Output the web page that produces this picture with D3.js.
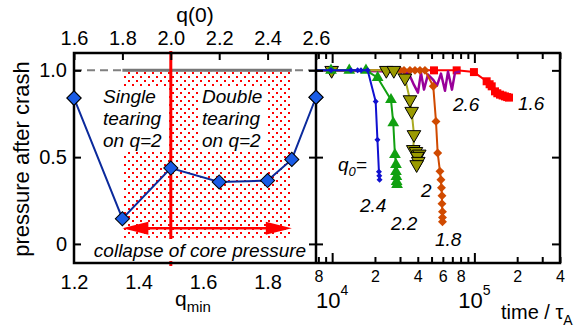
<!DOCTYPE html>
<html><head><meta charset="utf-8">
<script src="https://cdn.jsdelivr.net/npm/d3@7"></script>
<style>
body{margin:0;background:#fff}
svg{display:block}
text{font-family:"Liberation Sans",Arial,Helvetica,sans-serif;fill:#000}
</style>
</head><body>
<svg id="c" width="582" height="327"></svg>
<script>
// ---------- data ----------
const q0Ticks = [1.6, 1.8, 2.0, 2.2, 2.4, 2.6];
const qminTicks = [1.2, 1.4, 1.6, 1.8];
const yTicks = [0, 0.5, 1.0];
const leftQ0 = [1.6, 1.8, 2.0, 2.2, 2.4, 2.5, 2.6];
const leftPressure = [0.84, 0.145, 0.437, 0.357, 0.365, 0.487, 0.845];

const timeMinorTicks = [8e3, 9e3, 2e4, 3e4, 4e4, 5e4, 6e4, 7e4, 8e4, 9e4, 2e5, 3e5, 4e5];
const timeMajorTicks = [1e4, 1e5];
const timeMinorLabels = [8e3, 2e4, 4e4, 6e4, 8e4, 2e5, 4e5];

// q0 = 2.4 (blue)
const t24 = [7700, 9820, 13550, 15110, 15950, 17770, 20230, 20820, 21330, 21450, 21550];
const p24 = [1, 1, 1, 1, 1, 1, 0.82, 0.60, 0.416, 0.393, 0.37];
// q0 = 2.2 (green)
const t22 = [7700, 9820, 13190, 17290, 20890, 25920, 26900, 27640, 28100, 28100, 28300, 28400, 28600];
const p22 = [1, 1, 1, 1, 0.958, 0.831, 0.697, 0.514, 0.457, 0.416, 0.388, 0.359, 0.342];
// q0 = 2.0 (olive)
const t20 = [7700, 9920, 24040, 27140, 32500, 35250, 36240, 37610, 37180, 38840, 40980, 39680, 40320, 39280];
const p20 = [1, 1, 1, 1, 0.956, 0.831, 0.764, 0.63, 0.544, 0.533, 0.518, 0.505, 0.476, 0.457];
// q0 = 1.8 (orange)
const t18 = [7700, 29990, 31990, 35250, 38230, 41450, 44940, 51400, 53710, 55220, 57280, 58200, 58700, 59180, 59180, 59660, 59660, 59660];
const p18 = [1, 1, 1, 1, 1, 1, 1, 0.908, 0.706, 0.524, 0.418, 0.37, 0.324, 0.278, 0.232, 0.186, 0.152, 0.128];
// q0 = 2.6 (purple)
const t26 = [7700, 29020, 31990, 34130, 37610, 40130, 42120, 44220, 47180, 51160, 54580, 58230, 62140, 65240, 69600, 73060, 79200];
const p26 = [1, 0.993, 0.964, 0.993, 0.916, 0.872, 0.987, 0.889, 0.976, 0.947, 0.912, 0.981, 0.882, 0.993, 0.889, 0.987, 0.993];
// q0 = 1.6 (red)
const t16 = [7700, 52000, 75080, 99300, 122000, 128000, 132400, 139700, 145000, 151400, 158000, 164100, 170000, 175100];
const p16 = [1, 1, 1, 0.99, 0.937, 0.92, 0.908, 0.879, 0.868, 0.86, 0.855, 0.85, 0.846, 0.843];

// ---------- layout ----------
const L = {x0: 74, x1: 316, y0: 53, y1: 263};
const R = {x0: 316, x1: 560};
const svg = d3.select("#c");
const FONT = "20px";

const xL = d3.scaleLinear().domain([1.6, 2.6]).range([L.x0, L.x1]);
const xLb = d3.scaleLinear().domain([1.2, 1.95]).range([L.x0, L.x1]);
const y = d3.scaleLinear().domain([-0.11, 1.1]).range([L.y1, L.y0]);
const xR = d3.scaleLog().domain([7700, 4e5]).range([R.x0, R.x1]);

// pattern
const defs = svg.append("defs");
const pat = defs.append("pattern").attr("id", "dots").attr("patternUnits", "userSpaceOnUse")
  .attr("width", 8).attr("height", 8);
pat.append("rect").attr("x", 0).attr("y", 0).attr("width", 2).attr("height", 2).attr("fill", "#ff0000");
pat.append("rect").attr("x", 4).attr("y", 4).attr("width", 2).attr("height", 2).attr("fill", "#ff0000");

// ---------- left panel ----------
const gl = svg.append("g");
gl.append("rect")
  .attr("x", xL(1.8)).attr("y", y(1.0))
  .attr("width", xL(2.5) - xL(1.8)).attr("height", y(0.035) - y(1.0))
  .attr("fill", "url(#dots)");
gl.append("line").attr("x1", L.x0).attr("x2", L.x1).attr("y1", y(1)).attr("y2", y(1))
  .attr("stroke", "#808080").attr("stroke-width", 2).attr("stroke-dasharray", "8,5");
gl.append("line").attr("x1", xL(1.8)).attr("x2", xL(2.5)).attr("y1", y(1)).attr("y2", y(1))
  .attr("stroke", "#777").attr("stroke-width", 3);
gl.append("line").attr("x1", xL(2.0)).attr("x2", xL(2.0)).attr("y1", L.y0 - 2).attr("y2", L.y1 + 3)
  .attr("stroke", "#ff0000").attr("stroke-width", 3);

function textBlock(g, x, lines, y0, dy) {
  const t = g.append("text").attr("font-style", "italic").attr("font-size", "19px");
  lines.forEach((s, i) => t.append("tspan").attr("x", x).attr("y", y0 + i * dy).text(s));
  return t;
}
gl.append("rect").attr("x", 101).attr("y", 86).attr("width", 68).attr("height", 66).attr("fill", "#fff");
gl.append("rect").attr("x", 200).attr("y", 86).attr("width", 66).attr("height", 66).attr("fill", "#fff");
textBlock(gl, 103, ["Single", "tearing", "on q=2"], 103, 22);
textBlock(gl, 202, ["Double", "tearing", "on q=2"], 103, 22);

const ay = y(0.09);
gl.append("line").attr("x1", xL(1.8) + 20).attr("x2", xL(2.5) - 20).attr("y1", ay).attr("y2", ay)
  .attr("stroke", "#ff0000").attr("stroke-width", 2.5);
gl.append("path").attr("fill", "#ff0000")
  .attr("d", `M${xL(1.8)},${ay} L${xL(1.8) + 26},${ay - 6.5} L${xL(1.8) + 26},${ay + 6.5} Z`);
gl.append("path").attr("fill", "#ff0000")
  .attr("d", `M${xL(2.5)},${ay} L${xL(2.5) - 26},${ay - 6.5} L${xL(2.5) - 26},${ay + 6.5} Z`);

gl.append("rect").attr("x", 86).attr("y", 239).attr("width", 228).attr("height", 22).attr("fill", "#fff");
gl.append("text").attr("x", 200).attr("y", 257).attr("text-anchor", "middle")
  .attr("font-style", "italic").attr("font-size", "19px").text("collapse of core pressure");

const leftData = leftQ0.map((q, i) => [q, leftPressure[i]]);
gl.append("path").datum(leftData)
  .attr("d", d3.line().x(d => xL(d[0])).y(d => y(d[1])))
  .attr("fill", "none").attr("stroke", "#0b2a9c").attr("stroke-width", 2);
const sq = d3.symbol().type(d3.symbolSquare);
gl.selectAll(".ld").data(leftData).join("path")
  .attr("d", sq.size(100)())
  .attr("transform", d => `translate(${xL(d[0])},${y(d[1])}) rotate(45)`)
  .attr("fill", "#1a5ce6").attr("stroke", "#000").attr("stroke-width", 1);

// ---------- right panel ----------
const gr = svg.append("g");
const lineR = d3.line().x(d => xR(d[0])).y(d => y(d[1]));
function series(ts, ps, color, width, marker) {
  const data = ts.map((t, i) => [t, ps[i]]);
  gr.append("path").datum(data).attr("d", lineR).attr("fill", "none")
    .attr("stroke", color).attr("stroke-width", width).attr("stroke-linejoin", "round");
  if (marker) {
    gr.selectAll(null).data(data.slice(1)).join("path")
      .attr("d", marker.path)
      .attr("transform", d => `translate(${xR(d[0])},${y(d[1])}) rotate(${marker.rot || 0})`)
      .attr("fill", marker.fill).attr("stroke", marker.stroke || "none").attr("stroke-width", marker.sw || 0);
  }
}
series(t16, p16, "#ff0000", 2, {path: d3.symbol().type(d3.symbolSquare).size(64)(), fill: "#ff0000"});
series(t26, p26, "#990099", 2.5, null);
series(t18, p18, "#d04a00", 2, {path: d3.symbol().type(d3.symbolSquare).size(40)(), rot: 45, fill: "#d04a00"});
series(t20, p20, "#aaaa22", 2, {path: d3.symbol().type(d3.symbolTriangle).size(80)(), rot: 180, fill: "#9a9a00", stroke: "#000", sw: 1});
series(t22, p22, "#11a011", 2, {path: d3.symbol().type(d3.symbolTriangle).size(60)(), fill: "#11a011"});
series(t24, p24, "#1010d0", 2, {path: d3.symbol().type(d3.symbolSquare).size(18)(), rot: 45, fill: "#1010d0"});

function itext(x, yy, s, anchor) {
  return svg.append("text").attr("x", x).attr("y", yy).attr("font-style", "italic")
    .attr("font-size", "19px").attr("text-anchor", anchor || "start").text(s);
}
itext(453, 111, "2.6");
itext(518, 110, "1.6");
itext(360, 212, "2.4");
itext(391, 230, "2.2");
itext(421, 197, "2");
itext(435, 246, "1.8");
const q0t = svg.append("text").attr("x", 338).attr("y", 171).attr("font-style", "italic").attr("font-size", "19px");
q0t.append("tspan").text("q");
q0t.append("tspan").attr("font-size", "13px").attr("dy", 5).text("0");
q0t.append("tspan").attr("dy", -5).text("=");

// ---------- axes ----------
svg.append("g").attr("transform", `translate(${L.x0},0)`)
  .call(d3.axisLeft(y).tickValues(yTicks).tickFormat(d => d === 0 ? "0" : d.toFixed(1))
    .tickSizeInner(-7).tickSizeOuter(0).tickPadding(7))
  .call(g => g.select(".domain").remove())
  .call(g => g.selectAll("text").attr("font-size", FONT).attr("font-family", null))
  .call(g => g.selectAll("line").attr("stroke-width", 2));
[d3.axisLeft, d3.axisRight].forEach(ax => {
  svg.append("g").attr("transform", `translate(${L.x1},0)`)
    .call(ax(y).tickValues(yTicks).tickSize(7).tickFormat(""))
    .call(g => g.select(".domain").remove())
    .call(g => g.selectAll("line").attr("stroke-width", 2));
});
svg.append("g").attr("transform", `translate(${R.x1},0)`)
  .call(d3.axisLeft(y).tickValues(yTicks).tickSize(8).tickFormat(""))
  .call(g => g.select(".domain").remove())
  .call(g => g.selectAll("line").attr("stroke-width", 2));

svg.append("g").attr("transform", `translate(0,${L.y0})`)
  .call(d3.axisTop(xL).tickValues(q0Ticks).tickFormat(d3.format(".1f"))
    .tickSizeInner(-7).tickSizeOuter(0).tickPadding(8))
  .call(g => g.select(".domain").remove())
  .call(g => g.selectAll("text").attr("font-size", FONT).attr("font-family", null))
  .call(g => g.selectAll("line").attr("stroke-width", 2));
svg.append("text").attr("x", xL(2.1)).attr("y", 22).attr("text-anchor", "middle")
  .attr("font-size", "21px").text("q(0)");

svg.append("g").attr("transform", `translate(0,${L.y1})`)
  .call(d3.axisBottom(xLb).tickValues(qminTicks).tickFormat(d3.format(".1f"))
    .tickSizeInner(0).tickSizeOuter(0).tickPadding(12))
  .call(g => g.select(".domain").remove())
  .call(g => g.selectAll("text").attr("font-size", FONT).attr("font-family", null));
const qm = svg.append("text").attr("x", 175).attr("y", 306).attr("font-size", "21px");
qm.append("tspan").text("q");
qm.append("tspan").attr("font-size", "15px").attr("dy", 6).text("min");

[[L.y1, d3.axisTop], [L.y0, d3.axisBottom]].forEach(([yy, ax]) => {
  svg.append("g").attr("transform", `translate(0,${yy})`)
    .call(ax(xR).tickValues(timeMinorTicks).tickSize(6).tickFormat(""))
    .call(g => g.select(".domain").remove())
    .call(g => g.selectAll("line").attr("stroke-width", 2));
  svg.append("g").attr("transform", `translate(0,${yy})`)
    .call(ax(xR).tickValues(timeMajorTicks).tickSize(10).tickFormat(""))
    .call(g => g.select(".domain").remove())
    .call(g => g.selectAll("line").attr("stroke-width", 2));
});
svg.append("g").attr("transform", `translate(0,${L.y1})`)
  .call(d3.axisBottom(xR).tickValues(timeMinorLabels).tickSize(0).tickPadding(8)
    .tickFormat(d => String(Math.round(d / Math.pow(10, Math.floor(Math.log10(d)))))))
  .call(g => g.select(".domain").remove())
  .call(g => g.selectAll("text").attr("font-size", "16px").attr("font-family", null));
timeMajorTicks.forEach(t => {
  const tx = svg.append("text").attr("x", xR(t)).attr("y", 308).attr("text-anchor", "middle").attr("font-size", "22px");
  tx.append("tspan").text("10");
  tx.append("tspan").attr("font-size", "14px").attr("dy", -13).text(String(Math.round(Math.log10(t))));
});
const tl = svg.append("text").attr("x", 501).attr("y", 319).attr("font-size", "20px");
tl.append("tspan").text("time / τ");
tl.append("tspan").attr("font-size", "14px").attr("dy", 6).text("A");

svg.append("text").attr("transform", "translate(29,159) rotate(-90)").attr("text-anchor", "middle")
  .attr("font-size", "22px").text("pressure after crash");

svg.append("rect").attr("x", L.x0).attr("y", L.y0).attr("width", R.x1 - L.x0).attr("height", L.y1 - L.y0)
  .attr("fill", "none").attr("stroke", "#000").attr("stroke-width", 2.5);
svg.append("line").attr("x1", L.x1).attr("x2", L.x1).attr("y1", L.y0).attr("y2", L.y1)
  .attr("stroke", "#000").attr("stroke-width", 2.5);
svg.selectAll(".edge").data(leftData.filter(d => d[0] === 1.6 || d[0] === 2.6)).join("path")
  .attr("d", sq.size(100)())
  .attr("transform", d => `translate(${xL(d[0])},${y(d[1])}) rotate(45)`)
  .attr("fill", "#1a5ce6").attr("stroke", "#000").attr("stroke-width", 1);
</script>
</body></html>
